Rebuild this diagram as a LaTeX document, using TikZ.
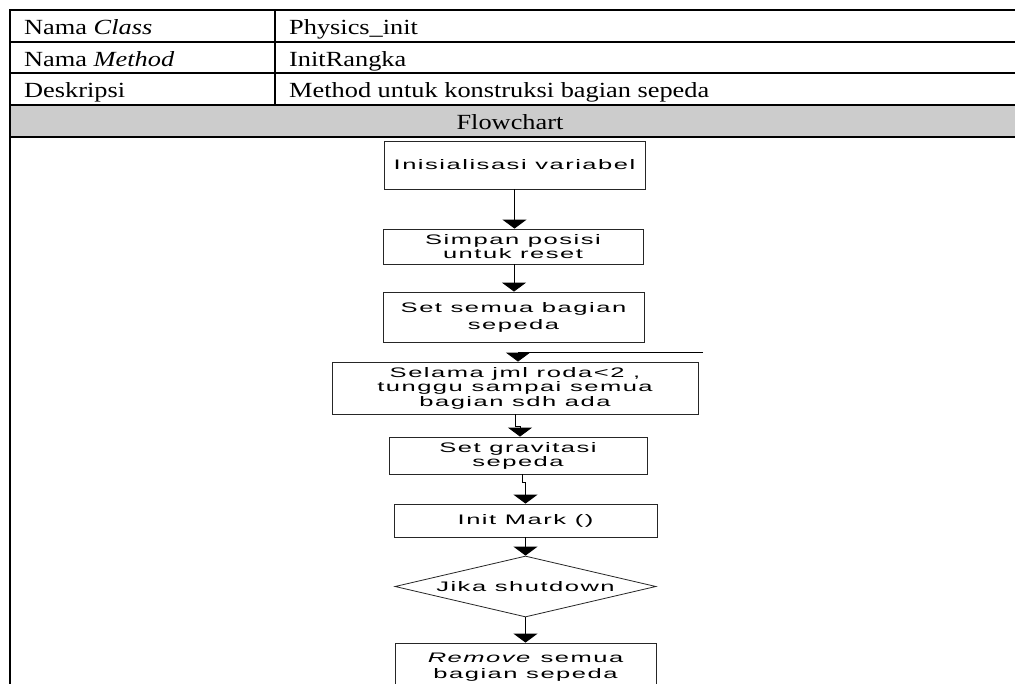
\documentclass[tikz,border=0pt]{standalone}
\usepackage{fontspec}
\setmainfont[FakeStretch=1.22]{Liberation Serif}
\newfontfamily\boxfont[FakeStretch=1.85,LetterSpace=11]{Liberation Sans}
\usetikzlibrary{arrows.meta,shapes.geometric}
\begin{document}
\begin{tikzpicture}[x=1pt,y=-1pt,
  tbl/.style={line width=2pt,line cap=rect},
  cell/.style={anchor=base west,inner sep=0pt,font=\fontsize{21.6}{24}\selectfont},
  hcell/.style={anchor=base,inner sep=0pt,font=\fontsize{21.6}{24}\selectfont},
  fbox/.style={draw=black!85,line width=0.8pt,rectangle,inner sep=0pt,align=center,font=\boxfont\fontsize{13.8}{14.5}\selectfont},
  dbox/.style={draw=black!85,line width=0.8pt,diamond,aspect=4.28,inner sep=0pt,font=\boxfont\fontsize{13.8}{14.5}\selectfont},
  arr/.style={line width=0.9pt,-{Triangle[width=24pt,length=9pt]}}
]
\useasboundingbox (0,0) rectangle (1015,684);
\clip (0,0) rectangle (1015,684);
\fill[white] (0,0) rectangle (1015,684);
% table
\fill[gray!40] (10,105) rectangle (1020,137);
\draw[tbl] (1020,10) -- (10,10) -- (10,700);
\draw[tbl] (10,42) -- (1020,42);
\draw[tbl] (10,73) -- (1020,73);
\draw[tbl] (10,105) -- (1020,105);
\draw[tbl] (10,137) -- (1020,137);
\draw[tbl] (275,10) -- (275,105);
\node[cell] (c11) at (24,35) {Nama \textit{Class}};
\node[cell] (c12) at (289,35) {Physics\_init};
\node[cell] (c21) at (24,67) {Nama \textit{Method}};
\node[cell] (c22) at (289,67) {InitRangka};
\node[cell] (c31) at (24,98) {Deskripsi};
\node[cell] (c32) at (289,98) {Method untuk konstruksi bagian sepeda};
\node[hcell] (hd) at (510,130) {Flowchart};
% flowchart
\node[fbox,minimum width=261pt,minimum height=48pt] (b1) at (514.5,165) {Inisialisasi variabel};
\node[fbox,minimum width=260pt,minimum height=35pt,font=\boxfont\fontsize{13.8}{13.5}\selectfont] (b2) at (513,246.5) {Simpan posisi\\untuk reset};
\node[fbox,minimum width=261pt,minimum height=50pt,font=\boxfont\fontsize{13.8}{17}\selectfont] (b3) at (513.5,317) {Set semua bagian\\sepeda};
\node[fbox,minimum width=366pt,minimum height=52pt] (b4) at (515,388) {Selama jml roda<2 ,\\tunggu sampai semua\\bagian sdh ada};
\node[fbox,minimum width=258pt,minimum height=37pt,font=\boxfont\fontsize{13.8}{14}\selectfont] (b5) at (518,455.5) {Set gravitasi\\sepeda};
\node[fbox,minimum width=263pt,minimum height=33pt] (b6) at (525.5,520.5) {Init Mark ()};
\node[dbox,minimum width=261pt,minimum height=61pt] (d1) at (525.5,586.5) {Jika shutdown};
\node[fbox,minimum width=261pt,minimum height=49pt,font=\boxfont\fontsize{13.8}{16}\selectfont] (b7) at (525.5,667.5) {\textit{Remove} semua\\bagian sepeda};
\coordinate (lp) at (703,352);
\draw[arr] (b1.south) -- (b1.south |- b2.north);
\draw[arr] ([xshift=1pt]b2.south) -- ([xshift=1pt]b2.south |- b3.north);
\draw[arr] (lp) -| ([xshift=3pt]b4.north);
\draw[arr] (b4.south) -- ++(0,12) -| ([xshift=2pt]b5.north);
\draw[arr] ([xshift=4pt]b5.south) -- ++(0,8) -| (b6.north);
\draw[arr] (b6.south) -- (d1.north);
\draw[arr] (d1.south) -- (b7.north);
\end{tikzpicture}
\end{document}
